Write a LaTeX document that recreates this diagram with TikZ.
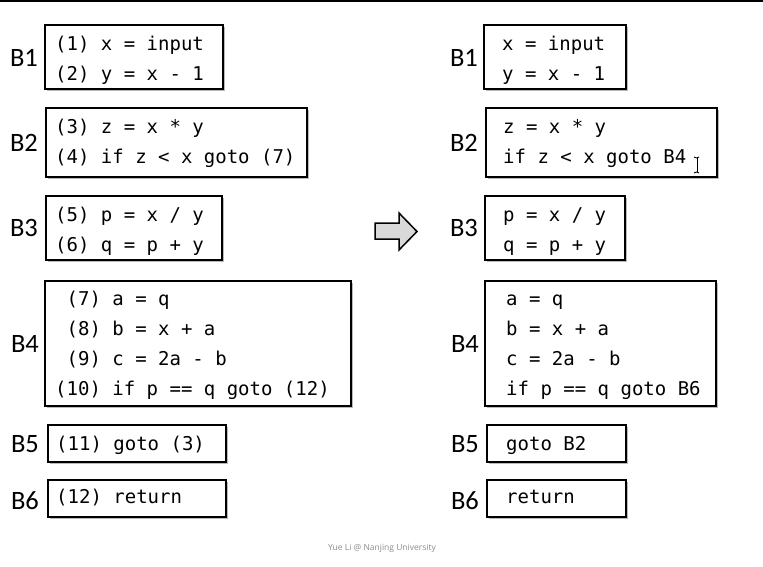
\documentclass[tikz,border=0pt]{standalone}
\usepackage{fontspec}
\usetikzlibrary{shadows}
\newfontfamily\codefont{DejaVu Sans Mono}
\newfontfamily\labfont{Carlito}
\newfontfamily\footfont{Open Sans}
\begin{document}
\begin{tikzpicture}[x=1pt,y=-1pt,
  blk/.style={draw=black, line width=1.8pt, fill=white, inner sep=0pt, rectangle,
     drop shadow={shadow xshift=1.5pt, shadow yshift=-1.5pt, fill=black!45, opacity=0.6}},
  code/.style={anchor=base west, inner sep=0pt, font=\codefont\fontsize{19pt}{30pt}\selectfont},
  lab/.style={anchor=base, inner sep=0pt, font=\labfont\fontsize{26.5pt}{30pt}\selectfont}]
\useasboundingbox (0,0) rectangle (763,566);
\fill[white] (0,0) rectangle (763,566);
\draw[line width=2pt] (0,1) coordinate (tl) -- (763,1) coordinate (tr);

% left boxes
\node[blk, minimum width=178pt, minimum height=64pt] (L1) at (134,57) {};
\node[blk, minimum width=261pt, minimum height=69pt] (L2) at (176.5,142.5) {};
\node[blk, minimum width=176pt, minimum height=64pt] (L3) at (134,228) {};
\node[blk, minimum width=306pt, minimum height=125pt] (L4) at (198,343.5) {};
\node[blk, minimum width=178pt, minimum height=37pt] (L5) at (137,443.5) {};
\node[blk, minimum width=178pt, minimum height=37pt] (L6) at (137,498.5) {};

% right boxes
\node[blk, minimum width=142pt, minimum height=64pt] (R1) at (555,57) {};
\node[blk, minimum width=231pt, minimum height=69pt] (R2) at (601.5,142.5) {};
\node[blk, minimum width=140pt, minimum height=64pt] (R3) at (555,228) {};
\node[blk, minimum width=231pt, minimum height=125pt] (R4) at (600.5,343.5) {};
\node[blk, minimum width=139pt, minimum height=37pt] (R5) at (556.5,443.5) {};
\node[blk, minimum width=139pt, minimum height=37pt] (R6) at (556.5,498.5) {};

% labels
\node[lab] (lb1) at (24,66) {B1};
\node[lab] (lb2) at (24,151) {B2};
\node[lab] (lb3) at (24,236.5) {B3};
\node[lab] (lb4) at (25,352) {B4};
\node[lab] (lb5) at (25,452) {B5};
\node[lab] (lb6) at (25,509) {B6};
\node[lab] (rb1) at (464,66) {B1};
\node[lab] (rb2) at (464,151) {B2};
\node[lab] (rb3) at (464,236.5) {B3};
\node[lab] (rb4) at (465,352) {B4};
\node[lab] (rb5) at (465,452) {B5};
\node[lab] (rb6) at (465,509) {B6};

% left code
\node[code] (l11) at (55,50) {(1) x = input};
\node[code] (l12) at (55,80) {(2) y = x - 1};
\node[code] (l21) at (55,133) {(3) z = x * y};
\node[code] (l22) at (55,163) {(4) if z < x goto (7)};
\node[code] (l31) at (55,221) {(5) p = x / y};
\node[code] (l32) at (55,251) {(6) q = p + y};
\node[code] (l41) at (55,305) {\ (7) a = q};
\node[code] (l42) at (55,335) {\ (8) b = x + a};
\node[code] (l43) at (55,365) {\ (9) c = 2a - b};
\node[code] (l44) at (55,395) {(10) if p == q goto (12)};
\node[code] (l51) at (56,450) {(11) goto (3)};
\node[code] (l61) at (56,503) {(12) return};

% right code
\node[code] (r11) at (502,50) {x = input};
\node[code] (r12) at (502,80) {y = x - 1};
\node[code] (r21) at (503,133) {z = x * y};
\node[code] (r22) at (503,163) {if z < x goto B4};
\node[code] (r31) at (503,221) {p = x / y};
\node[code] (r32) at (503,251) {q = p + y};
\node[code] (r41) at (506,305) {a = q};
\node[code] (r42) at (506,335) {b = x + a};
\node[code] (r43) at (506,365) {c = 2a - b};
\node[code] (r44) at (506,395) {if p == q goto B6};
\node[code] (r51) at (506,450) {goto B2};
\node[code] (r61) at (506,503) {return};

% big arrow
\draw[line width=1.5pt, fill=black!15, line join=miter]
  (375,223) -- (399,223) -- (399,213) -- (417,231.5) -- (399,250) -- (399,239) -- (375,239) -- cycle;

% text cursor
\draw[line width=0.9pt] (697,158) -- (697,172);
\draw[line width=0.9pt] (694,157) -- (696.5,158) -- (699,157);
\draw[line width=0.9pt] (694,173) -- (696.5,172) -- (699,173);

% footer
\node[inner sep=0pt, text=black!45, font=\footfont\fontsize{8.5pt}{10pt}\selectfont] (ft) at (382,548) {Yue Li @ Nanjing University};
\end{tikzpicture}
\end{document}
